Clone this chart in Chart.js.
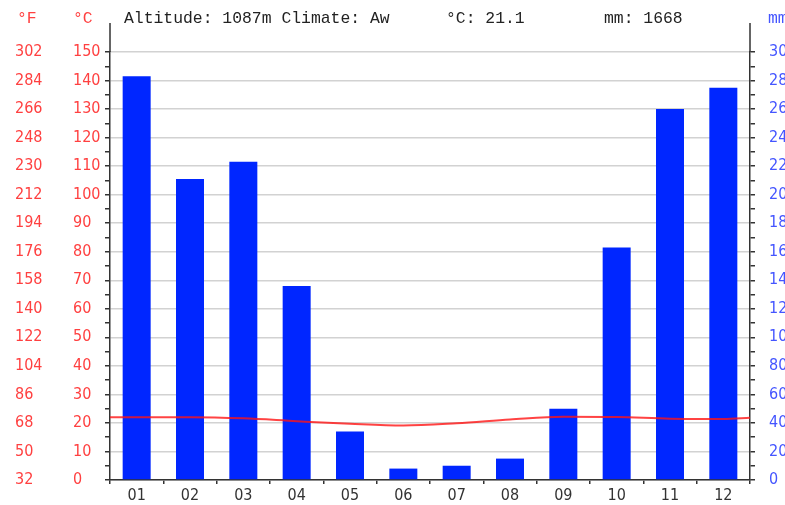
<!DOCTYPE html>
<html>
<head>
<meta charset="utf-8">
<script src="https://cdn.jsdelivr.net/npm/chart.js@4/dist/chart.umd.min.js"></script>
<style>
  html, body { margin: 0; padding: 0; background: #fff; overflow: hidden; }
  #wrap { position: relative; width: 800px; height: 505px; }
  .hd { position: absolute; top: 9px; font: 16.4px 'Liberation Mono', 'DejaVu Sans Mono', monospace; line-height: 20px; white-space: pre; color: #222; }
  .red { color: #ff4040; }
  .blue { color: #4455ff; }
</style>
</head>
<body>
<div id="wrap">
  <canvas id="myChart" width="800" height="505"></canvas>
  <div class="hd red" style="left:17px">°F</div>
  <div class="hd red" style="left:73px">°C</div>
  <div class="hd" style="left:124px">Altitude: 1087m Climate: Aw</div>
  <div class="hd" style="left:446px">°C: 21.1</div>
  <div class="hd" style="left:604px">mm: 1668</div>
  <div class="hd blue" style="left:768px">mm</div>
</div>
<script>
// data
const months = ['01', '02', '03', '04', '05', '06', '07', '08', '09', '10', '11', '12'];
const precipitation = [283, 211, 223, 136, 34, 8, 10, 15, 50, 163, 260, 275]; // mm
const temperature = [22.0, 22.0, 21.6, 20.6, 19.7, 19.1, 19.9, 21.2, 22.2, 22.1, 21.5, 21.4]; // °C
const tempEdges = [22.0, 21.8]; // line height at left and right border of the plot

const redText = '#ff4040';
const blueText = '#4455ff';
const axisColor = '#333';
const tickFont = { family: "'DejaVu Sans Condensed', 'DejaVu Sans', sans-serif", size: 16 };

// line points: months sit at the middle of each slot, plus the two borders
const tempPoints = [{ x: 0, y: tempEdges[0] }];
temperature.forEach((t, i) => tempPoints.push({ x: i + 0.5, y: t }));
tempPoints.push({ x: 12, y: tempEdges[1] });

// draws the axis lines a bit above the plot, like the original
const axisTops = {
    id: 'axisTops',
    afterDraw(chart) {
        const { ctx, chartArea } = chart;
        ctx.save();
        ctx.strokeStyle = axisColor;
        ctx.lineWidth = 1.5;
        ctx.beginPath();
        ctx.moveTo(chartArea.left, 23);
        ctx.lineTo(chartArea.left, chartArea.top);
        ctx.moveTo(chartArea.right, 23);
        ctx.lineTo(chartArea.right, chartArea.top);
        ctx.stroke();
        ctx.restore();
    }
};

function makeChart() {
    const ctx = document.getElementById('myChart').getContext('2d');
    return new Chart(ctx, {
        data: {
            labels: months,
            datasets: [{
                type: 'bar',
                data: precipitation,
                xAxisID: 'x',
                yAxisID: 'yMm',
                backgroundColor: '#0026ff',
                barPercentage: 0.525,
                categoryPercentage: 1.0,
                grouped: false,
                order: 1
            }, {
                type: 'line',
                data: tempPoints,
                xAxisID: 'xLine',
                yAxisID: 'yC',
                borderColor: 'rgba(255, 20, 20, 0.8)',
                borderWidth: 2,
                pointRadius: 0,
                tension: 0.4,
                cubicInterpolationMode: 'monotone',
                order: 0
            }]
        },
        options: {
            responsive: false,
            animation: false,
            layout: { padding: { left: 15, top: 52, right: 0, bottom: 0 } },
            plugins: { legend: { display: false }, tooltip: { enabled: false } },
            scales: {
                x: {
                    type: 'category',
                    offset: true,
                    grid: { offset: true, drawOnChartArea: false, tickLength: 4, tickColor: axisColor, lineWidth: 1.5 },
                    border: { color: axisColor, width: 1.5 },
                    ticks: { color: axisColor, font: tickFont, padding: 2 },
                    afterFit: s => { s.height = 25; }
                },
                xLine: {
                    type: 'linear',
                    min: 0,
                    max: 12,
                    display: false
                },
                yF: {
                    type: 'linear',
                    position: 'left',
                    weight: 2,
                    min: 32,
                    max: 302,
                    grid: { display: false, drawTicks: false },
                    border: { display: false },
                    ticks: { stepSize: 18, color: redText, font: tickFont, crossAlign: 'far', padding: 0, autoSkip: false },
                    afterFit: s => { s.width = 58; }
                },
                yC: {
                    type: 'linear',
                    position: 'left',
                    weight: 1,
                    min: 0,
                    max: 150,
                    grid: {
                        color: c => (c.tick && c.tick.value % 10 === 0) ? '#d2d2d2' : 'rgba(0,0,0,0)',
                        lineWidth: 1.5,
                        tickColor: axisColor,
                        tickLength: 5
                    },
                    border: { color: axisColor, width: 1.5 },
                    ticks: {
                        stepSize: 5,
                        autoSkip: false,
                        color: redText,
                        font: tickFont,
                        crossAlign: 'far',
                        padding: 0,
                        callback: v => v % 10 === 0 ? v : ''
                    },
                    afterFit: s => { s.width = 37; }
                },
                yMm: {
                    type: 'linear',
                    position: 'right',
                    min: 0,
                    max: 300,
                    grid: { drawOnChartArea: false, tickColor: axisColor, tickLength: 5, lineWidth: 1.5 },
                    border: { color: axisColor, width: 1.5 },
                    ticks: {
                        stepSize: 10,
                        autoSkip: false,
                        color: blueText,
                        font: tickFont,
                        padding: 14,
                        callback: v => v % 20 === 0 ? v : ''
                    },
                    afterFit: s => { s.width = 50; }
                }
            }
        },
        plugins: [axisTops]
    });
}

makeChart();
</script>
</body>
</html>
